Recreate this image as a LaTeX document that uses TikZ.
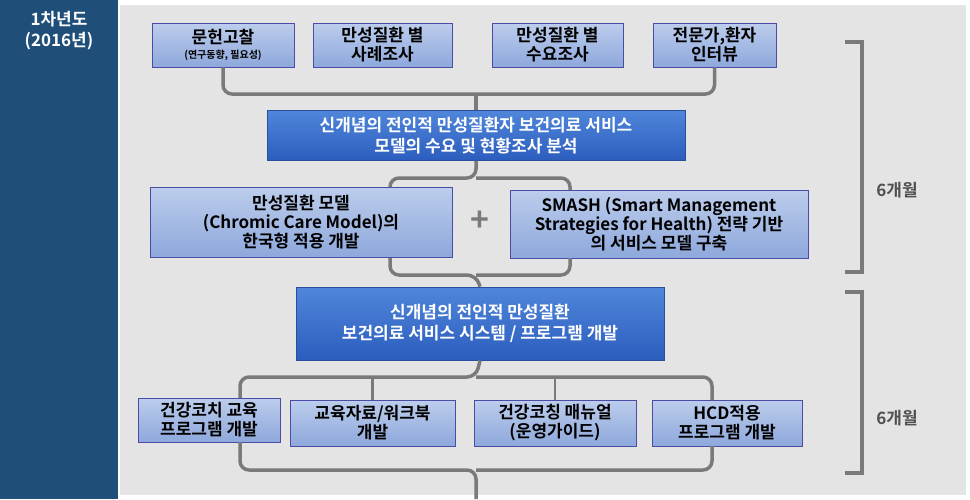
\documentclass[tikz,border=0pt]{standalone}
\usepackage{fontspec}
\setmainfont{Noto Sans CJK KR Bold}
\begin{document}
\begin{tikzpicture}[x=1pt,y=-1pt,
  lbox/.style={draw=blue!50!black!70,line width=0.8pt,top color=lbtop,bottom color=lbbot,align=center,inner sep=1pt,font=\fontsize{17}{19}\selectfont,text=black},
  dbox/.style={draw=dbbord,line width=0.8pt,top color=dbtop,bottom color=dbbot,align=center,inner sep=1pt,font=\fontsize{17}{21}\selectfont,text=white},
  conn/.style={draw=lgray,line width=3.5pt,rounded corners=9pt},
  thin/.style={draw=lgray,line width=2.5pt},
  lab/.style={font=\fontsize{17}{20}\selectfont,text=labgray}]
\definecolor{lbtop}{HTML}{BCCDEC}
\definecolor{lbbot}{HTML}{8EA8DC}
\definecolor{dbtop}{HTML}{4F86DA}
\definecolor{dbbot}{HTML}{2C5DBE}
\definecolor{dbbord}{HTML}{2A4F9A}
\definecolor{lgray}{HTML}{7A7A7A}
\definecolor{labgray}{HTML}{505050}
\definecolor{panel}{HTML}{1F4E79}
\definecolor{bg}{HTML}{E4E4E4}
\useasboundingbox (0,0) rectangle (970,499);
\fill[white] (0,0) rectangle (970,499);
\fill[bg] (120,5) rectangle (966,495);
\fill[panel] (0,0) rectangle (118,499);
\node[text=white,align=center,font=\fontsize{17}{21}\selectfont] (yr) at (59,31) {1차년도\\(2016년)};
% top boxes
\node[lbox,minimum width=142,minimum height=44] (a1) at (223,45) {문헌고찰\\[-4pt]{\fontsize{10}{12}\selectfont (연구동향, 필요성)}};
\node[lbox,minimum width=139,minimum height=44] (a2) at (382.5,45) {만성질환 별\\사례조사};
\node[lbox,minimum width=131,minimum height=44] (a3) at (557.5,45) {만성질환 별\\수요조사};
\node[lbox,minimum width=123,minimum height=44] (a4) at (714.5,45) {전문가,환자\\인터뷰};
\node[dbox,minimum width=418,minimum height=50] (b) at (476,135.5) {신개념의 전인적 만성질환자 보건의료 서비스\\모델의 수요 및 현황조사 분석};
\node[lbox,minimum width=302,minimum height=70] (c1) at (301,222) {만성질환 모델\\(Chromic Care Model)의\\한국형 적용 개발};
\node[lbox,minimum width=298,minimum height=68] (c2) at (659,224) {SMASH (Smart Management\\Strategies for Health) 전략 기반\\의 서비스 모델 구축};
\node[text=lgray,font=\fontsize{32}{32}\selectfont] (plus) at (480,221) {+};
\node[dbox,minimum width=368,minimum height=73] (d) at (480,323.5) {신개념의 전인적 만성질환\\보건의료 서비스 시스템 / 프로그램 개발};
\node[lbox,minimum width=142,minimum height=44] (e1) at (209,420) {건강코치 교육\\프로그램 개발};
\node[lbox,minimum width=165,minimum height=46] (e2) at (372.5,423) {교육자료/워크북\\개발};
\node[lbox,minimum width=162,minimum height=46] (e3) at (555,423) {건강코칭 매뉴얼\\(운영가이드)};
\node[lbox,minimum width=150,minimum height=46] (e4) at (727,423) {HCD적용\\프로그램 개발};
\coordinate (top) at (476,499);
% connectors
\draw[conn] (a1.south) |- (476,94) -| (a4.south);
\draw[conn] (b.north) -- (476,94);
\draw[conn] (390,187) |- (476,178) -- (b.south);
\draw[conn] (570,190) |- (476,178);
\draw[conn] (390,258) |- (476,275) -- (d.north);
\draw[conn] (570,258) |- (476,275);
\draw[conn] (240,398) |- (476,377) -- (d.south);
\draw[conn] (712,400) |- (476,377);
\draw[thin] (e2.north) -- (e2.north|-{(0,377)});
\draw[thin] (e3.north) -- (e3.north|-{(0,377)});
\draw[conn] (240,442) |- (476,470) -- (top);
\draw[conn] (712,446) |- (476,470);
% brackets
\coordinate (br1a) at (845,42); \coordinate (br1b) at (845,272);
\coordinate (br2a) at (845,292); \coordinate (br2b) at (845,473);
\draw[lgray,line width=3.5pt] (br1a) -- (862,42) -- (862,272) -- (br1b);
\draw[lgray,line width=3.5pt] (br2a) -- (862,292) -- (862,473) -- (br2b);
\node[lab] (m1) at (897,190) {6개월};
\node[lab] (m2) at (897,418) {6개월};
\end{tikzpicture}
\end{document}
